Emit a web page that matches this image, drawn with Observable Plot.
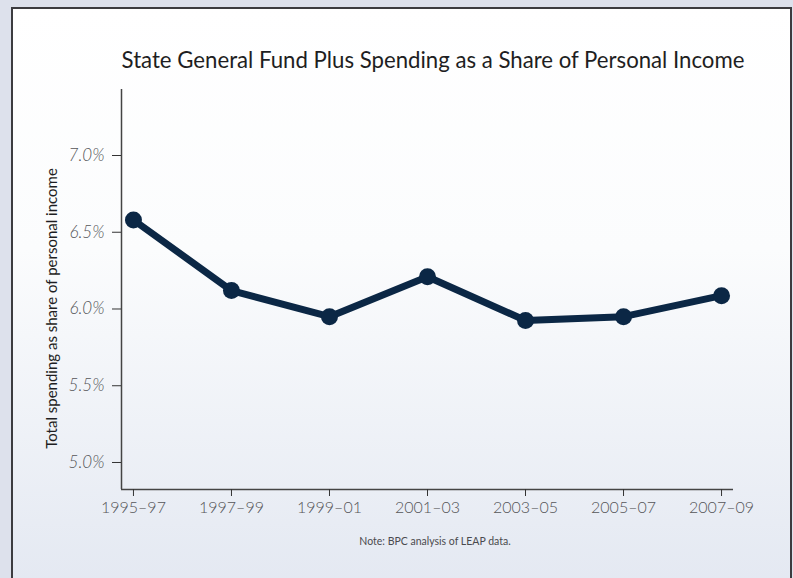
<!DOCTYPE html>
<html>
<head>
<meta charset="utf-8">
<script src="https://cdn.jsdelivr.net/npm/d3@7"></script>
<script src="https://cdn.jsdelivr.net/npm/@observablehq/plot@0.6"></script>
<style>
  html, body { margin: 0; padding: 0; }
  body { width: 793px; height: 578px; position: relative; overflow: hidden; background: #dde1ec; font-family: Lato, "Open Sans", sans-serif; }
  #panel { position: absolute; left: 11px; top: 7px; width: 777px; height: 600px; border: 2px solid #3c3c40; background: linear-gradient(to bottom, #ffffff 0%, #fbfcfd 40%, #e2e7f1 100%); }
  #title { position: absolute; left: 0; width: 866px; top: 46px; text-align: center; font-size: 22.2px; color: #1e1e22; font-weight: 400; }
  #note { position: absolute; left: 0; width: 870px; top: 535px; text-align: center; font-size: 10.5px; color: #4a4a4e; }
  #chart { position: absolute; left: 0; top: 0; }
</style>
</head>
<body>
<div id="panel"></div>
<div id="chart"></div>
<div id="title">State General Fund Plus Spending as a Share of Personal Income</div>
<div id="note">Note: BPC analysis of LEAP data.</div>
<script>
const periods = ["1995\u201397", "1997\u201399", "1999\u201301", "2001\u201303", "2003\u201305", "2005\u201307", "2007\u201309"];
const shares = [6.58, 6.12, 5.95, 6.21, 5.925, 5.95, 6.087];
const yTicks = [5.0, 5.5, 6.0, 6.5, 7.0];
const yLabel = "Total spending as share of personal income";

const data = periods.map((p, i) => ({i, period: p, share: shares[i]}));
const xDomain = [-0.122, periods.length - 1 + 0.122];
const yDomain = [4.824, 7.43];
const navy = "#0b2745";

const chart = Plot.plot({
  width: 793,
  height: 578,
  marginLeft: 121,
  marginRight: 60,
  marginTop: 89,
  marginBottom: 89,
  style: {fontFamily: "Lato, 'Open Sans', sans-serif", background: "transparent", overflow: "visible"},
  x: {type: "linear", domain: xDomain},
  y: {domain: yDomain},
  marks: [
    Plot.ruleY([yDomain[0]], {stroke: "#444", strokeWidth: 1.5}),
    Plot.ruleX([xDomain[0]], {stroke: "#444", strokeWidth: 1.5}),
    Plot.axisX({ticks: d3.range(periods.length), tickFormat: i => periods[i], tickSize: 7, tickPadding: 5, fontSize: 16, fontWeight: 300, color: "#555558", stroke: "#333", label: null}),
    Plot.axisY({ticks: yTicks, tickFormat: d => d.toFixed(1) + "%", tickSize: 9, tickPadding: 8, fontSize: 17, fontWeight: 300, color: "#555558", stroke: "#333", label: null, fontStyle: "italic"}),
    Plot.text([yLabel], {frameAnchor: "left", textAnchor: "middle", dx: -69, dy: 19, rotate: -90, fontSize: 15, fill: "#1e1e22", text: d => d}),
    Plot.line(data, {x: "i", y: "share", stroke: navy, strokeWidth: 7, strokeLinejoin: "round"}),
    Plot.dot(data, {x: "i", y: "share", r: 8.5, fill: navy, stroke: "none"})
  ]
});
document.getElementById("chart").appendChild(chart);
</script>
</body>
</html>
